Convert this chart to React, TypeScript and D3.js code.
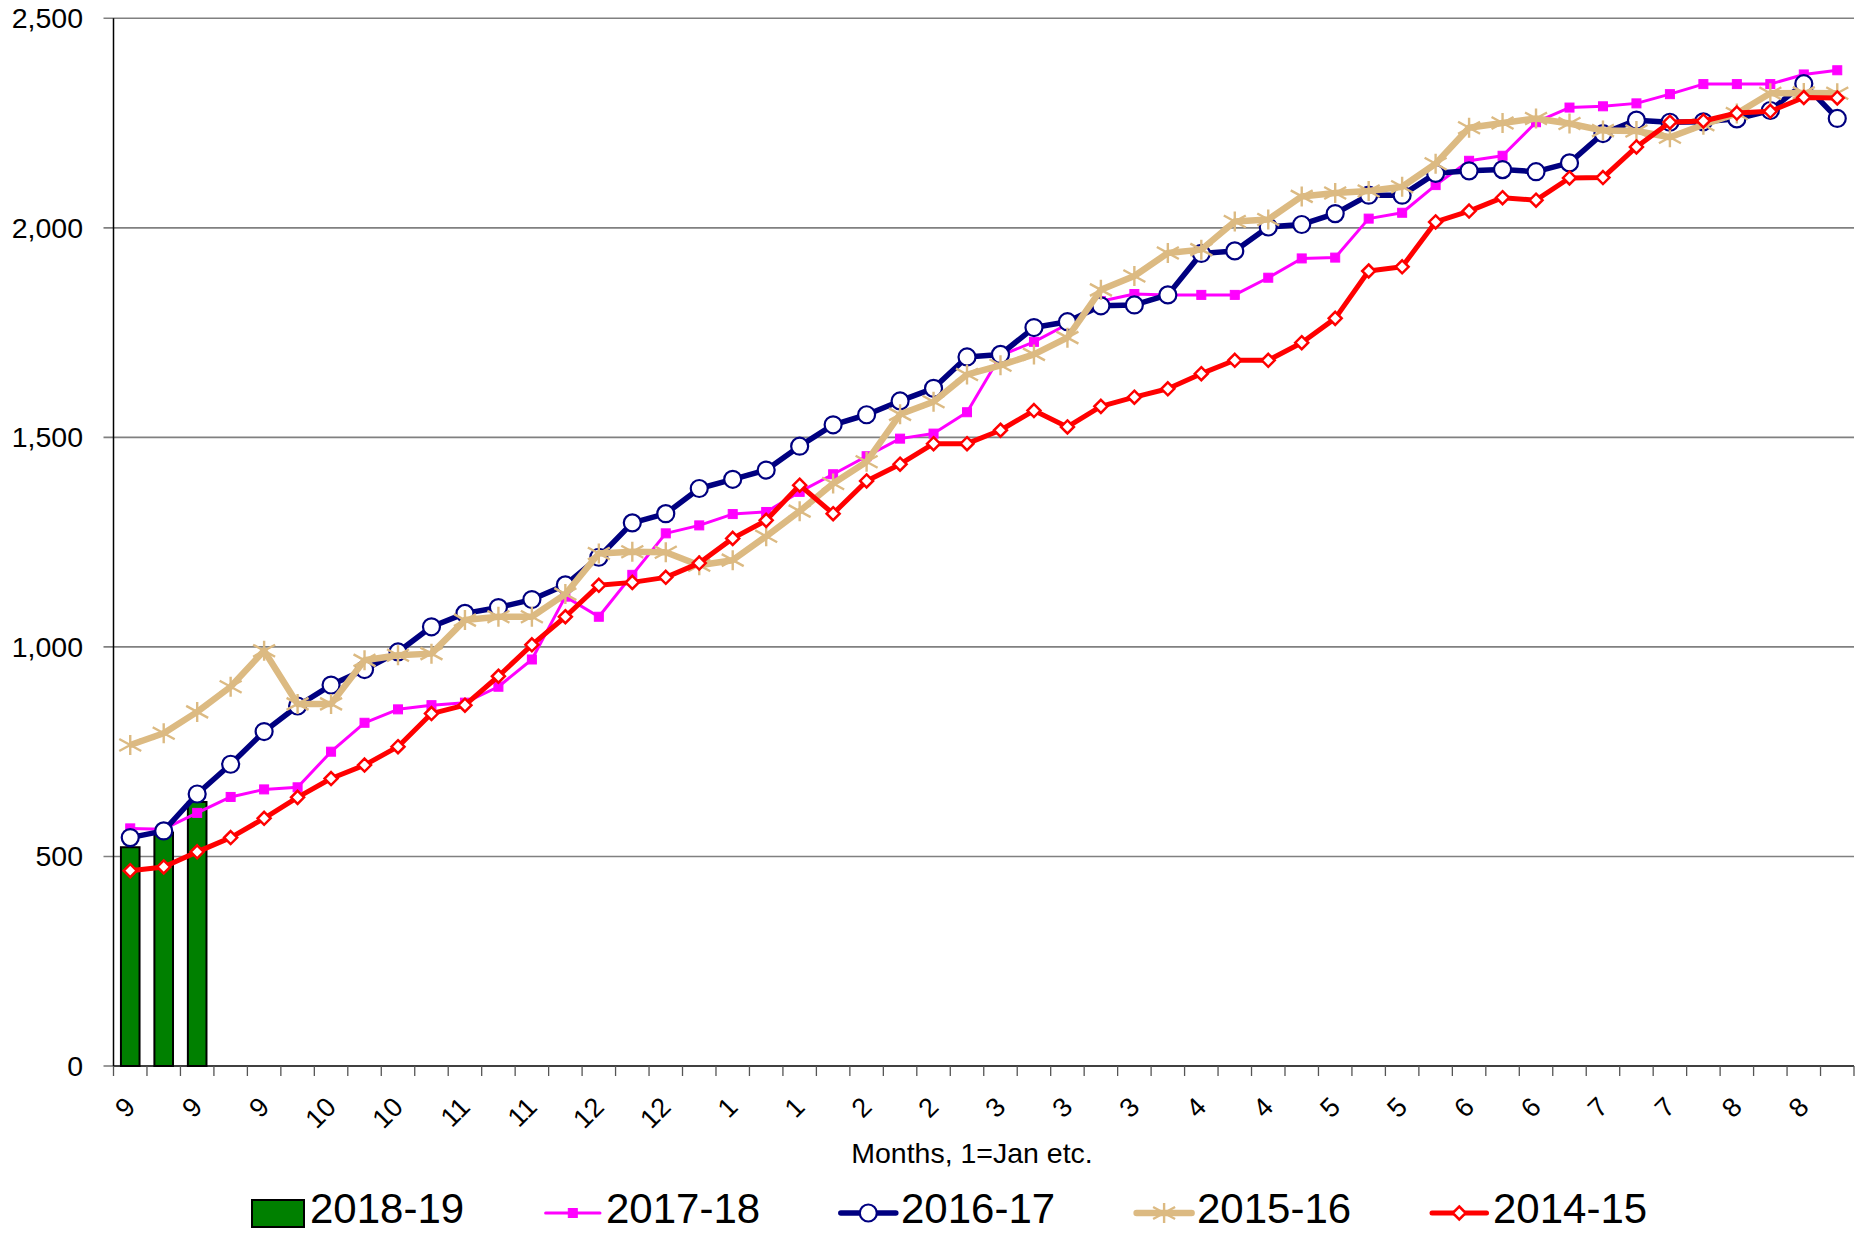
import React from "react";
import * as d3 from "d3";

// Month number for each of the 52 weekly categories (1 = Jan)
const weekMonths = [
  9, 9, 9, 9, 9, 10, 10, 10, 10, 11, 11, 11, 11, 12, 12, 12, 12, 12,
  1, 1, 1, 1, 2, 2, 2, 2, 3, 3, 3, 3, 3, 4, 4, 4, 4, 5, 5, 5, 5,
  6, 6, 6, 6, 6, 7, 7, 7, 7, 8, 8, 8, 8,
];

const yTicks = [0, 500, 1000, 1500, 2000, 2500];

const s2018_19 = [522, 557, 630];

const s2017_18 = [
  567, 565, 604, 642, 660, 665, 750, 819, 851, 861, 867, 905, 970, 1120, 1072, 1172, 1271, 1290,
  1317, 1322, 1370, 1412, 1455, 1497, 1509, 1560, 1695, 1728, 1770, 1825, 1842, 1840, 1840, 1840,
  1881, 1927, 1929, 2022, 2036, 2102, 2160, 2172, 2252, 2287, 2290, 2297, 2319, 2343, 2343, 2343,
  2366, 2376,
];

const s2016_17 = [
  545, 561, 649, 720, 798, 859, 909, 946, 988, 1048, 1080, 1094, 1113, 1148, 1214, 1296, 1318, 1378,
  1400, 1422, 1479, 1530, 1554, 1587, 1617, 1692, 1698, 1762, 1776, 1814, 1816, 1840, 1939, 1945,
  2002, 2008, 2034, 2078, 2078, 2130, 2136, 2139, 2134, 2155, 2225, 2257, 2252, 2253, 2260, 2280,
  2344, 2261,
];

const s2015_16 = [
  766, 794, 845, 905, 991, 864, 864, 968, 980, 984, 1064, 1072, 1072, 1126, 1223, 1227, 1226, 1195,
  1207, 1264, 1324, 1390, 1442, 1555, 1585, 1650, 1672, 1698, 1738, 1852, 1885, 1940, 1948, 2015,
  2020, 2075, 2083, 2088, 2098, 2153, 2239, 2250, 2261, 2249, 2232, 2231, 2216, 2246, 2273, 2321,
  2322, 2321,
];

const s2014_15 = [
  466, 475, 511, 545, 591, 641, 686, 718, 762, 841, 861, 930, 1005, 1072, 1147, 1154, 1166, 1200,
  1259, 1302, 1386, 1318, 1396, 1436, 1485, 1485, 1517, 1564, 1525, 1574, 1596, 1616, 1652, 1684,
  1684, 1726, 1784, 1897, 1907, 2014, 2040, 2072, 2066, 2119, 2120, 2193, 2252, 2255, 2274, 2278,
  2311, 2310,
];

const FONT = "'Liberation Sans', Arial, sans-serif";
const TAN = "#DCBA82";

const W = 1863;
const H = 1233;
const left = 113.5;
const right = 1854;
const top = 18.3;
const bottom = 1066;

type Marker = "square" | "circle" | "star" | "diamond";

function MarkerShape({ kind, x, y, color }: { kind: Marker; x: number; y: number; color: string }) {
  if (kind === "square") {
    return <rect x={x - 4.5} y={y - 4.5} width={9} height={9} fill={color} stroke={color} strokeWidth={1} />;
  }
  if (kind === "circle") {
    return <circle cx={x} cy={y} r={8.5} fill="#fff" stroke={color} strokeWidth={2.2} />;
  }
  if (kind === "diamond") {
    const r = 6.5;
    return (
      <path
        d={`M${x},${y - r}L${x + r},${y}L${x},${y + r}L${x - r},${y}Z`}
        fill="#fff"
        stroke={color}
        strokeWidth={2.5}
      />
    );
  }
  // star / asterisk
  return (
    <path
      d={`M${x},${y - 10}L${x},${y + 10}M${x - 11},${y - 6}L${x + 11},${y + 6}M${x - 11},${y + 6}L${x + 11},${y - 6}`}
      stroke={color}
      strokeWidth={2.4}
      fill="none"
    />
  );
}

export default function App() {
  const idx = d3.range(weekMonths.length);
  const x = d3.scaleBand<number>().domain(idx).range([left, right]).paddingInner(0).paddingOuter(0);
  const bw = x.bandwidth();
  const cx = (i: number) => (x(i) as number) + bw / 2;
  const y = d3.scaleLinear().domain([0, 2500]).range([bottom, top]);

  const line = d3
    .line<number>()
    .x((_, i) => cx(i))
    .y((d) => y(d));

  const series: { name: string; data: number[]; color: string; width: number; marker: Marker }[] = [
    { name: "2017-18", data: s2017_18, color: "#FF00FF", width: 3, marker: "square" },
    { name: "2016-17", data: s2016_17, color: "#000080", width: 5.5, marker: "circle" },
    { name: "2015-16", data: s2015_16, color: TAN, width: 6.5, marker: "star" },
    { name: "2014-15", data: s2014_15, color: "#FF0000", width: 5, marker: "diamond" },
  ];

  const barW = bw * 0.556;

  const legendItems = [
    { lineX: [545.6, 600], textX: 606 },
    { lineX: [840.8, 895.8], textX: 901 },
    { lineX: [1136.6, 1191.6], textX: 1197 },
    { lineX: [1432, 1486.5], textX: 1493 },
  ];
  const legendY = 1213;
  const legendBase = 1223;
  const legendFont = 42;

  return (
    <svg
      width={W}
      height={H}
      viewBox={`0 0 ${W} ${H}`}
      style={{ position: "absolute", left: 0, top: 0, background: "#fff" }}
      fontFamily={FONT}
    >
      <rect x={0} y={0} width={W} height={H} fill="#fff" />
      {/* gridlines */}
      {yTicks
        .filter((t) => t > 0)
        .map((t) => (
          <line key={t} x1={left - 10} x2={right} y1={y(t)} y2={y(t)} stroke="#808080" strokeWidth={1.6} />
        ))}
      <line x1={left - 10} x2={left} y1={y(0)} y2={y(0)} stroke="#808080" strokeWidth={1.6} />
      {/* y tick labels */}
      {yTicks.map((t) => (
        <text key={t} x={83} y={y(t)} dy="0.35em" textAnchor="end" fontSize={28.5} fill="#000">
          {d3.format(",")(t)}
        </text>
      ))}

      {/* bars 2018-19 */}
      {s2018_19.map((v, i) => (
        <rect
          key={i}
          x={cx(i) - barW / 2}
          y={y(v)}
          width={barW}
          height={y(0) - y(v)}
          fill="#008000"
          stroke="#000"
          strokeWidth={2}
        />
      ))}

      {/* axes */}
      <line x1={left} x2={left} y1={top} y2={bottom} stroke="#000" strokeWidth={1.5} />
      <line x1={left} x2={right} y1={bottom} y2={bottom} stroke="#000" strokeWidth={1.6} />
      {d3.range(weekMonths.length + 1).map((i) => {
        const tx = left + i * bw;
        return <line key={i} x1={tx} x2={tx} y1={bottom} y2={bottom + 10} stroke="#555" strokeWidth={1.3} />;
      })}

      {/* lines */}
      {series.map((s) => (
        <g key={s.name}>
          <path d={line(s.data) || ""} fill="none" stroke={s.color} strokeWidth={s.width} strokeLinejoin="round" />
          {s.data.map((v, i) => (
            <MarkerShape key={i} kind={s.marker} x={cx(i)} y={y(v)} color={s.color} />
          ))}
        </g>
      ))}

      {/* x tick labels */}
      {weekMonths.map((m, i) =>
        i % 2 === 0 ? (
          <text
            key={i}
            transform={`translate(${cx(i)},1102) rotate(-45)`}
            textAnchor="end"
            dy="0.35em"
            fontSize={27}
            fill="#000"
          >
            {m}
          </text>
        ) : null
      )}

      {/* axis title */}
      <text x={972} y={1163} textAnchor="middle" fontSize={28.5} fill="#000">
        Months, 1=Jan etc.
      </text>

      {/* legend */}
      <rect x={252} y={1200} width={52} height={27} fill="#008000" stroke="#000" strokeWidth={2} />
      <text x={310} y={legendBase} fontSize={legendFont} fill="#000">
        2018-19
      </text>
      {series.map((s, k) => {
        const it = legendItems[k];
        const mx = (it.lineX[0] + it.lineX[1]) / 2;
        return (
          <g key={s.name}>
            <line
              x1={it.lineX[0]}
              x2={it.lineX[1]}
              y1={legendY}
              y2={legendY}
              stroke={s.color}
              strokeWidth={s.width}
              strokeLinecap="round"
            />
            <MarkerShape kind={s.marker} x={mx} y={legendY} color={s.color} />
            <text x={it.textX} y={legendBase} fontSize={legendFont} fill="#000">
              {s.name}
            </text>
          </g>
        );
      })}
    </svg>
  );
}
